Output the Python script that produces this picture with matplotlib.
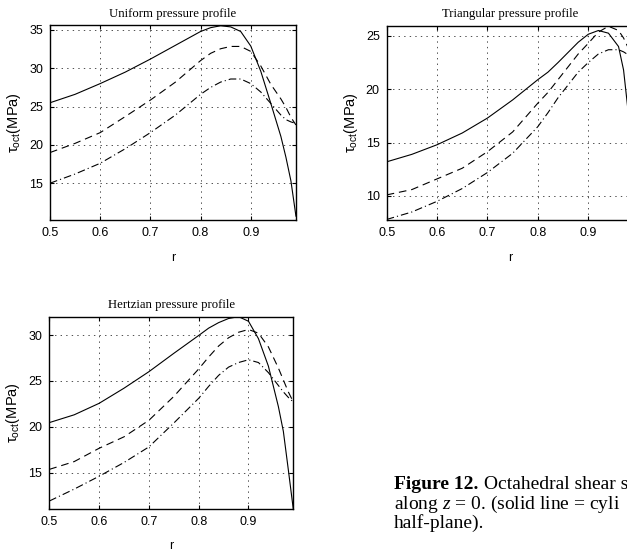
import matplotlib
matplotlib.use('Agg')
import matplotlib.pyplot as plt

plt.rcParams['font.family'] = ['Liberation Sans', 'DejaVu Sans']
plt.rcParams['mathtext.fontset'] = 'custom'
plt.rcParams['mathtext.rm'] = 'Liberation Sans'
plt.rcParams['mathtext.it'] = 'Liberation Serif:italic'
plt.rcParams['lines.scale_dashes'] = False

# Radial positions (shared by all curves)
r = [0.50, 0.55, 0.60, 0.65, 0.70, 0.75, 0.80, 0.82, 0.84, 0.86,
     0.88, 0.90, 0.92, 0.94, 0.96, 0.97, 0.98, 0.99]

# Uniform pressure profile
uni_solid = [25.5, 26.6, 28.0, 29.5, 31.2, 33.0, 34.8, 35.3, 35.55, 35.4,
             34.8, 32.9, 29.6, 25.4, 21.1, 18.4, 15.3, 10.7]
uni_dash = [19.0, 20.2, 21.6, 23.7, 25.85, 28.2, 31.0, 31.95, 32.55, 32.85,
            32.85, 32.2, 30.3, 27.9, 26.0, 24.9, 23.6, 22.6]
uni_dashdot = [15.0, 16.2, 17.6, 19.5, 21.6, 23.9, 26.6, 27.5, 28.2, 28.6,
               28.6, 28.0, 26.9, 25.4, 23.9, 23.3, 23.0, 22.8]

# Triangular pressure profile
tri_solid = [13.2, 13.9, 14.8, 15.9, 17.3, 19.0, 20.9, 21.6, 22.5, 23.45,
             24.4, 25.15, 25.5, 25.25, 24.0, 21.8, 17.5, 11.0]
tri_dash = [10.1, 10.6, 11.6, 12.6, 14.15, 16.0, 18.7, 19.7, 20.9, 22.1,
            23.3, 24.3, 25.35, 25.9, 25.5, 24.8, 23.8, 22.5]
tri_dashdot = [7.8, 8.5, 9.5, 10.7, 12.2, 14.0, 16.5, 17.8, 19.2, 20.4,
               21.6, 22.5, 23.3, 23.7, 23.7, 23.5, 23.2, 22.8]

# Hertzian pressure profile
her_solid = [20.45, 21.3, 22.55, 24.2, 26.0, 28.0, 29.95, 30.75, 31.35, 31.8,
             32.0, 31.5, 29.6, 26.6, 22.2, 19.5, 15.3, 11.0]
her_dash = [15.35, 16.2, 17.65, 18.9, 20.7, 23.3, 26.3, 27.6, 28.8, 29.7,
            30.3, 30.6, 30.2, 28.7, 26.4, 25.1, 23.8, 22.7]
her_dashdot = [11.9, 13.2, 14.6, 16.1, 17.8, 20.4, 23.1, 24.4, 25.6, 26.5,
               27.0, 27.3, 27.0, 25.9, 24.5, 23.8, 23.2, 22.7]

xticks = [0.5, 0.6, 0.7, 0.8, 0.9]

fig = plt.figure(figsize=(6.27, 5.54), dpi=100)

def draw(ax, title, solid, dash, dashdot, ylim, yticks, xlab_y):
    ax.plot(r, solid, color='black', lw=0.8, linestyle='-')
    ax.plot(r, dash, color='black', lw=0.8, linestyle=(0, (5.5, 3.5)))
    ax.plot(r, dashdot, color='black', lw=0.8, linestyle=(0, (5.5, 2.2, 0.8, 2.2)))
    ax.set_xlim(0.5, 0.99)
    ax.set_ylim(*ylim)
    ax.set_xticks(xticks)
    ax.set_xticklabels([str(t) for t in xticks])
    ax.set_yticks(yticks)
    ax.grid(True, color='#333333', linestyle=(0, (1, 3)), lw=0.6)
    ax.tick_params(direction='in', top=True, right=True, length=3, labelsize=9, pad=5)
    for s in ax.spines.values():
        s.set_linewidth(1.0)
    ax.set_title(title, fontsize=9.2, family='Liberation Serif', pad=6)
    ax.set_xlabel('r', fontsize=9)
    ax.set_ylabel(r'$\mathrm{\tau_{oct}}$(MPa)', fontsize=10.5)
    ax.xaxis.set_label_coords(0.5, xlab_y)
    ax.yaxis.set_label_coords(-0.11, 0.5)

ax1 = fig.add_axes([0.0797, 0.6029, 0.3923, 0.3520])
draw(ax1, 'Uniform pressure profile', uni_solid, uni_dash, uni_dashdot,
     (10.2, 35.65), [15, 20, 25, 30, 35], -0.165)

ax2 = fig.add_axes([0.6167, 0.6029, 0.3939, 0.3507])
draw(ax2, 'Triangular pressure profile', tri_solid, tri_dash, tri_dashdot,
     (7.75, 25.95), [10, 15, 20, 25], -0.165)

ax3 = fig.add_axes([0.0786, 0.0807, 0.3892, 0.3477])
draw(ax3, 'Hertzian pressure profile', her_solid, her_dash, her_dashdot,
     (11.0, 32.0), [15, 20, 25, 30], -0.16)

# Caption (cut off at the right edge as in the source page)
cap = dict(fontsize=14, family='Liberation Serif', va='baseline')
fig.text(394 / 627, 1 - 489 / 554, 'Figure 12.', weight='bold', **cap)
fig.text(484 / 627, 1 - 489 / 554, 'Octahedral shear s', **cap)
fig.text(394 / 627, 1 - 509 / 554, 'along $z$ = 0. (solid line = cyli', **cap)
fig.text(394 / 627, 1 - 528 / 554, 'half-plane).', **cap)

fig.savefig('out.png', dpi=100)
